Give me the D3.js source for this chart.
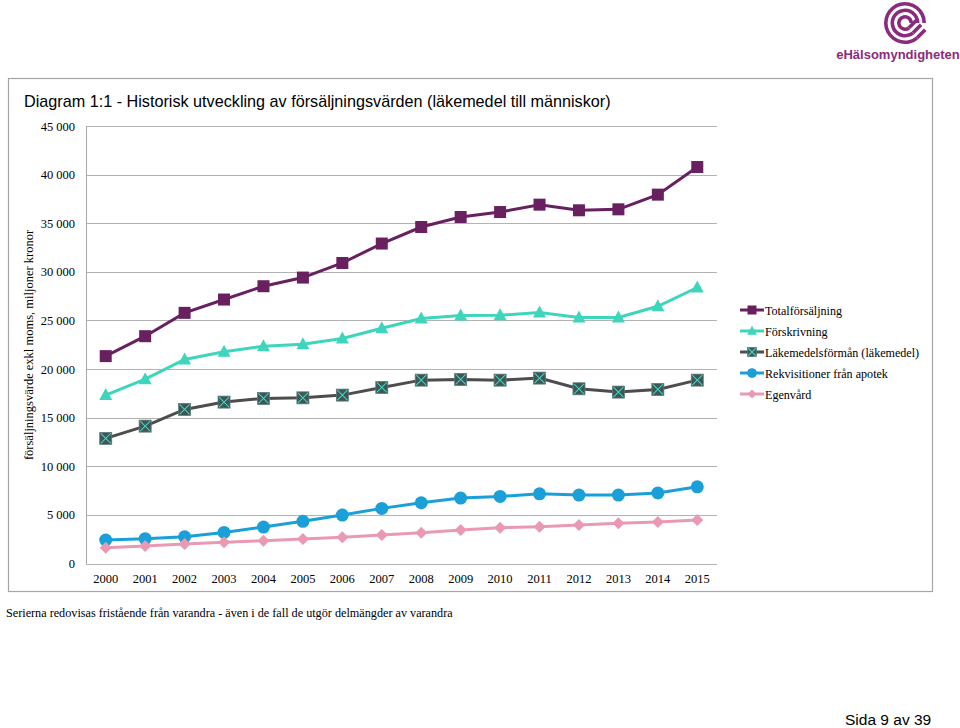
<!DOCTYPE html>
<html><head><meta charset="utf-8">
<script src="https://cdn.jsdelivr.net/npm/d3@7"></script>
<style>body{margin:0;background:#fff}svg{display:block}</style>
</head><body>
<script>
const years = ["2000","2001","2002","2003","2004","2005","2006","2007","2008","2009","2010","2011","2012","2013","2014","2015"];
const totalforsaljning = [21330,23380,25780,27150,28520,29410,30910,32910,34610,35640,36150,36910,36330,36430,37940,40780];
const forskrivning = [17320,18960,20990,21770,22350,22560,23140,24200,25200,25510,25540,25820,25300,25300,26460,28390];
const lakemedelsforman = [12870,14130,15850,16600,16980,17040,17320,18110,18860,18930,18860,19070,17970,17630,17900,18860];
const rekvisitioner = [2420,2550,2750,3200,3750,4340,4980,5670,6250,6730,6900,7170,7040,7040,7250,7890];
const egenvard = [1620,1800,2000,2180,2340,2520,2690,2930,3170,3440,3680,3780,3960,4130,4270,4470];
const yTicks = [0,5000,10000,15000,20000,25000,30000,35000,40000,45000];
const seriesNames = ["Totalförsäljning","Förskrivning","Läkemedelsförmån (läkemedel)","Rekvisitioner från apotek","Egenvård"];

const series = [
  {name: seriesNames[0], values: totalforsaljning, color: "#68205f", marker: "square"},
  {name: seriesNames[1], values: forskrivning, color: "#3dd5bb", marker: "triangle"},
  {name: seriesNames[2], values: lakemedelsforman, color: "#4d4d4f", marker: "xsquare"},
  {name: seriesNames[3], values: rekvisitioner, color: "#1a9fd9", marker: "circle"},
  {name: seriesNames[4], values: egenvard, color: "#e99ab2", marker: "diamond"}
];

const SERIF = "'Liberation Serif', 'Times New Roman', serif";
const SANS = "'Liberation Sans', Arial, sans-serif";

const W = 960, H = 728;
const svg = d3.select("body").append("svg").attr("width", W).attr("height", H);

// Logo
const logo = svg.append("g");
const lc = "#8b2b7d";
const cx = 905, cy = 23;
[21, 14.5, 8].forEach(r => {
  logo.append("path")
    .attr("d", d3.arc().innerRadius(r-3.6).outerRadius(r).startAngle(0.78*Math.PI).endAngle(2.5*Math.PI)())
    .attr("transform", `translate(${cx},${cy})`).attr("fill", lc);
});
[21, 14.5, 8].forEach(r => {
  const a = 0.78*Math.PI;
  const x0 = cx + (r-1.8)*Math.sin(a), y0 = cy - (r-1.8)*Math.cos(a);
  logo.append("line").attr("x1", x0).attr("y1", y0).attr("x2", x0 + 8).attr("y2", y0 - 8)
    .attr("stroke", lc).attr("stroke-width", 3.6);
});
logo.append("text").attr("x", 898).attr("y", 59).attr("text-anchor", "middle")
  .style("font-family", SANS).attr("font-weight", "bold")
  .attr("font-size", 13).attr("fill", lc).text("eHälsomyndigheten");

// Frame
svg.append("rect").attr("x", 8.5).attr("y", 78.5).attr("width", 924).attr("height", 513)
  .attr("fill", "none").attr("stroke", "#a6a6a6").attr("stroke-width", 1.2);

svg.append("text").attr("x", 24).attr("y", 107)
  .style("font-family", SANS).attr("font-size", 16.2).attr("fill", "#000")
  .text("Diagram 1:1 - Historisk utveckling av försäljningsvärden (läkemedel till människor)");

const x = d3.scaleBand().domain(years).range([86, 717]);
const y = d3.scaleLinear().domain([0, 45000]).range([563.5, 126]);

// gridlines
svg.append("g").selectAll("line").data(yTicks).join("line")
  .attr("x1", 86).attr("x2", 717).attr("y1", d => Math.round(y(d))+0.5).attr("y2", d => Math.round(y(d))+0.5)
  .attr("stroke", "#b3b3b3").attr("stroke-width", 1);
svg.append("line").attr("x1", 86.5).attr("x2", 86.5).attr("y1", 126).attr("y2", 564)
  .attr("stroke", "#a6a6a6");

const fmt = d => d === 0 ? "0" : d3.format(",")(d).replace(/,/g, " ");
const yAxis = d3.axisLeft(y).tickValues(yTicks).tickSize(0).tickPadding(11).tickFormat(fmt);
const gy = svg.append("g").attr("transform", "translate(86,0)").call(yAxis);
gy.select(".domain").remove();
gy.attr("font-family", null);
gy.selectAll("text").style("font-family", SERIF).style("font-size", "12.5px").attr("fill", "#000");

const xAxis = d3.axisBottom(x).tickSize(0).tickPadding(10);
const gx = svg.append("g").attr("transform", "translate(0,564)").call(xAxis);
gx.select(".domain").remove();
gx.attr("font-family", null);
gx.selectAll("text").style("font-family", SERIF).style("font-size", "12.5px").attr("fill", "#000");

svg.append("text").attr("transform", "translate(33,345) rotate(-90)").attr("text-anchor", "middle")
  .style("font-family", SERIF).attr("font-size", 12.5)
  .text("försäljningsvärde exkl moms, miljoner kronor");

function drawMarker(g, type, color, px, py, s) {
  s = s || 1;
  if (type === "square") {
    g.append("rect").attr("x", px-6*s).attr("y", py-6*s).attr("width", 12*s).attr("height", 12*s).attr("fill", color);
  } else if (type === "triangle") {
    g.append("path").attr("d", `M${px},${py-7*s}L${px+6.5*s},${py+5*s}L${px-6.5*s},${py+5*s}Z`).attr("fill", color);
  } else if (type === "xsquare") {
    g.append("rect").attr("x", px-6*s).attr("y", py-6*s).attr("width", 12*s).attr("height", 12*s)
      .attr("fill", "#3e5656").attr("stroke", "#5f7a7a").attr("stroke-width", 0.8);
    g.append("path").attr("d", `M${px-5*s},${py-5*s}L${px+5*s},${py+5*s}M${px+5*s},${py-5*s}L${px-5*s},${py+5*s}`)
      .attr("stroke", "#3dd5bb").attr("stroke-width", 1.1);
  } else if (type === "circle") {
    g.append("circle").attr("cx", px).attr("cy", py).attr("r", 6.5*s).attr("fill", color);
  } else if (type === "diamond") {
    g.append("path").attr("d", `M${px},${py-6*s}L${px+6*s},${py}L${px},${py+6*s}L${px-6*s},${py}Z`).attr("fill", color);
  }
}

const line = d3.line().x((d, i) => x(years[i]) + x.bandwidth()/2).y(d => y(d));
series.forEach(s => {
  const g = svg.append("g");
  g.append("path").attr("d", line(s.values)).attr("fill", "none").attr("stroke", s.color).attr("stroke-width", 3);
  s.values.forEach((v, i) => drawMarker(g, s.marker, s.color, x(years[i]) + x.bandwidth()/2, y(v)));
});

// Legend
const lg = svg.append("g");
series.forEach((s, i) => {
  const ly = 310 + i*21;
  lg.append("line").attr("x1", 740).attr("x2", 764).attr("y1", ly).attr("y2", ly).attr("stroke", s.color).attr("stroke-width", 3);
  drawMarker(lg, s.marker, s.color, 752, ly, 0.75);
  lg.append("text").attr("x", 765).attr("y", ly + 4.5)
    .style("font-family", SERIF).attr("font-size", 12.1).text(s.name);
});

svg.append("text").attr("x", 6).attr("y", 617)
  .style("font-family", SERIF).attr("font-size", 12.2)
  .text("Serierna redovisas fristående från varandra - även i de fall de utgör delmängder av varandra");

svg.append("text").attr("x", 845).attr("y", 725)
  .style("font-family", SANS).attr("font-size", 15.5)
  .text("Sida 9 av 39");
</script>
</body></html>
